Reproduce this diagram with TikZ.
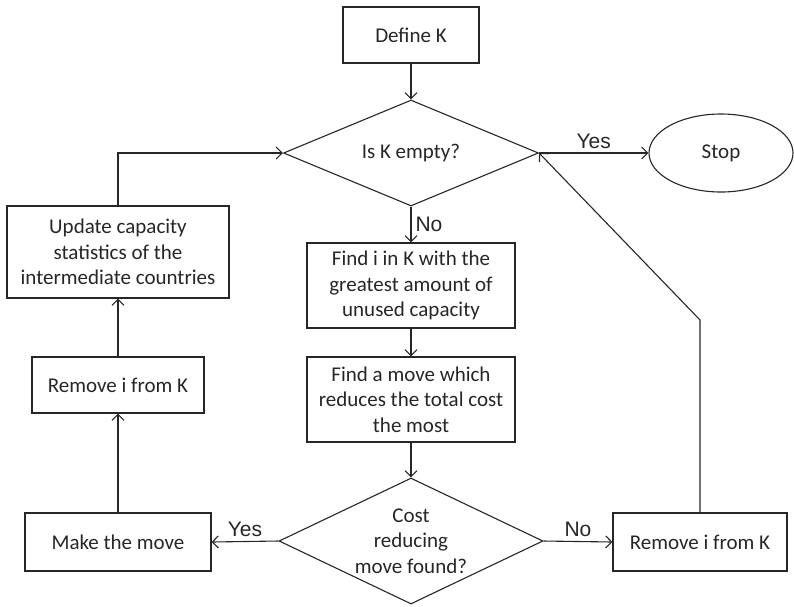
\documentclass[tikz,border=0pt]{standalone}
\usepackage{fontspec}
\setmainfont{Carlito}
\newfontfamily\labelfont{Liberation Sans}
\usepackage{tikz}
\usetikzlibrary{shapes.geometric, arrows.meta, positioning}
\tikzstyle{arrow}    = [line width=1.1pt, draw=black!85, -{Straight Barb[length=6pt,width=12pt]}]
\tikzstyle{line}     = [line width=1.1pt, draw=black!85]
\tikzstyle{block}    = [rectangle, draw=black!85, line width=1.1pt, inner sep=0pt, align=center, font=\fontsize{21}{25.5}\selectfont]
\tikzstyle{decision} = [diamond, draw=black!85, line width=1.1pt, inner sep=0pt, align=center, font=\fontsize{21}{25.5}\selectfont]
\tikzstyle{stopnode} = [ellipse, draw=black!85, line width=1.1pt, inner sep=0pt, font=\fontsize{21}{25.5}\selectfont]
\tikzstyle{answer}   = [font=\labelfont\fontsize{21}{24}\selectfont, inner sep=0pt]

\begin{document}
\begin{tikzpicture}[x=1pt, y=-1pt, text=black!85]
    \useasboundingbox (0,0) rectangle (794,606);

    \node (define)  at (411,35)   [block, minimum width=136, minimum height=56] {Define K};
    \node (empty)   at (411,153)  [decision, minimum width=255, minimum height=106, aspect=2.4] {Is K empty?};
    \node (stop)    at (721,153)  [stopnode, minimum width=144, minimum height=78] {Stop};
    \node (findi)   at (411,285.5)[block, minimum width=208, minimum height=85] {Find i in K with the\\greatest amount of\\unused capacity};
    \node (findmv)  at (411,399.5)[block, minimum width=208, minimum height=85] {Find a move which\\reduces the total cost\\the most};
    \node (found)   at (411,541)  [decision, minimum width=264, minimum height=126, aspect=2.1] {Cost\\reducing\\move found?};
    \node (make)    at (118,542)  [block, minimum width=186, minimum height=58] {Make the move};
    \node (removeR) at (700,542)  [block, minimum width=174, minimum height=58] {Remove i from K};
    \node (removeL) at (118,385)  [block, minimum width=172, minimum height=56] {Remove i from K};
    \node (update)  at (118,252)  [block, minimum width=222, minimum height=92] {Update capacity\\statistics of the\\intermediate countries};
    \coordinate (bend)  at (700,320);
    \coordinate (upL)   at (118,153);

    \draw [arrow] (define) -- (empty);
    \draw [arrow] (empty.east) -- node[answer, above=4pt]{Yes} (stop.west);
    \draw [arrow] (empty.south) -- node[answer, right=4pt]{No} (findi.north);
    \draw [arrow] (findi) -- (findmv);
    \draw [arrow] (findmv) -- (found.north);
    \draw [arrow] (found.west) -- node[answer, above=4pt]{Yes} (make.east);
    \draw [arrow] (found.east) -- node[answer, above=4pt]{No} (removeR.west);
    \draw [arrow] (removeR.north) -- (bend) -- (empty.east);
    \draw [arrow] (make) -- (removeL);
    \draw [arrow] (removeL) -- (update);
    \draw [arrow] (update.north) -- (upL) -- (empty.west);
\end{tikzpicture}
\end{document}
